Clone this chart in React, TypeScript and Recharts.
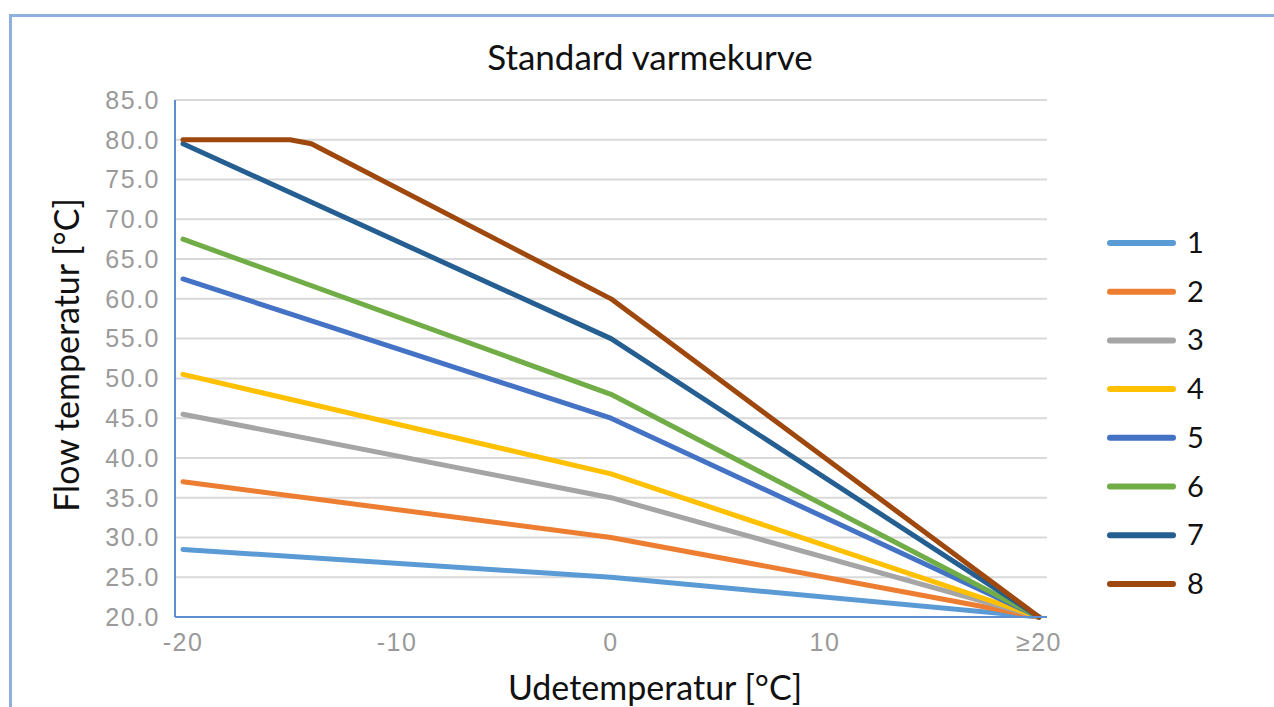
import React from 'react';
import { LineChart, Line, XAxis, YAxis, CartesianGrid } from 'recharts';

// Outdoor temperature points (x) used by the curves
const outdoorTemps = [-20, -15, -14, 0, 20];

// Curve values at -20, 0, 20 (curves 1-7)
const baseTemps = [-20, 0, 20];
const curve1 = [28.5, 25, 20];
const curve2 = [37, 30, 20];
const curve3 = [45.5, 35, 20];
const curve4 = [50.5, 38, 20];
const curve5 = [62.5, 45, 20];
const curve6 = [67.5, 48, 20];
const curve7 = [79.5, 55, 20];
// Curve 8 is capped at 80 with its own points
const curve8Temps = [-20, -15, -14, 0, 20];
const curve8 = [80, 80, 79.5, 60, 20];

const seriesNames = ['1', '2', '3', '4', '5', '6', '7', '8'];
const seriesColors = ['#5B9BD5', '#ED7D31', '#A5A5A5', '#FFC000', '#4472C4', '#70AD47', '#255E91', '#9E480E'];

const yTicks = [20, 25, 30, 35, 40, 45, 50, 55, 60, 65, 70, 75, 80, 85];
const xTicks = [-20, -10, 0, 10, 20];

const baseCurves = [curve1, curve2, curve3, curve4, curve5, curve6, curve7];

const data = outdoorTemps.map((t) => {
  const row: Record<string, number | null> = { t };
  baseCurves.forEach((c, i) => {
    const idx = baseTemps.indexOf(t);
    row['s' + (i + 1)] = idx >= 0 ? c[idx] : null;
  });
  const i8 = curve8Temps.indexOf(t);
  row.s8 = i8 >= 0 ? curve8[i8] : null;
  return row;
});

const CALIBRI = 'Lato, "Open Sans", sans-serif';
const TICKFONT = '"Liberation Sans", Arial, sans-serif';
const AXIS_BLUE = '#5B8FCF';

export default function App() {
  return (
    <div style={{ position: 'absolute', left: 0, top: 0, width: 1274, height: 707, background: '#fff', overflow: 'hidden' }}>
      <div style={{ position: 'absolute', left: 9, top: 14, width: 1274, height: 720, borderTop: '3px solid #8DB0DC', borderLeft: '3px solid #8DB0DC' }} />
      <div style={{ position: 'absolute', left: 0, top: 0 }}>
        <LineChart width={1274} height={707} data={data} margin={{ top: 100, right: 227, bottom: 0, left: 0 }}>
          <CartesianGrid vertical={false} stroke="#D9D9D9" strokeWidth={2} />
          <XAxis
            dataKey="t"
            type="number"
            domain={[-20, 20]}
            ticks={xTicks}
            padding={{ left: 8, right: 8 }}
            height={90}
            tickSize={0}
            tickMargin={16}
            tickFormatter={(v: number) => (v === 20 ? '≥20' : String(v))}
            axisLine={{ stroke: AXIS_BLUE, strokeWidth: 2 }}
            tick={{ fill: '#9A9A9A', fontSize: 25, fontFamily: TICKFONT, letterSpacing: 1.5 }}
          />
          <YAxis
            type="number"
            domain={[20, 85]}
            ticks={yTicks}
            width={175}
            tickSize={0}
            tickMargin={15}
            interval={0}
            tickFormatter={(v: number) => v.toFixed(1)}
            axisLine={{ stroke: AXIS_BLUE, strokeWidth: 2 }}
            tick={{ fill: '#9A9A9A', fontSize: 25, fontFamily: TICKFONT, letterSpacing: 1.5 }}
          />
          {seriesNames.map((n, i) => (
            <Line
              key={n}
              type="linear"
              dataKey={'s' + (i + 1)}
              name={n}
              stroke={seriesColors[i]}
              strokeWidth={5}
              dot={false}
              activeDot={false}
              connectNulls
              strokeLinecap="round"
              strokeLinejoin="round"
              isAnimationActive={false}
            />
          ))}
        </LineChart>
      </div>
      <svg width={1274} height={707} style={{ position: 'absolute', left: 0, top: 0, pointerEvents: 'none' }}>
        <text x={650} y={70} textAnchor="middle" fontFamily={CALIBRI} fontSize={35} fill="#111">Standard varmekurve</text>
        <text x={655} y={700} textAnchor="middle" fontFamily={CALIBRI} fontSize={34} fill="#111">Udetemperatur [°C]</text>
        <text transform="translate(79,355) rotate(-90)" textAnchor="middle" fontFamily={CALIBRI} fontSize={34} fill="#111">Flow temperatur [°C]</text>
        {seriesNames.map((n, i) => {
          const y = 243 + i * 48.7;
          return (
            <g key={n}>
              <line x1={1110} x2={1173} y1={y} y2={y} stroke={seriesColors[i]} strokeWidth={6} strokeLinecap="round" />
              <text x={1187} y={y + 10} fontFamily={CALIBRI} fontSize={29} fill="#111">{n}</text>
            </g>
          );
        })}
      </svg>
    </div>
  );
}
